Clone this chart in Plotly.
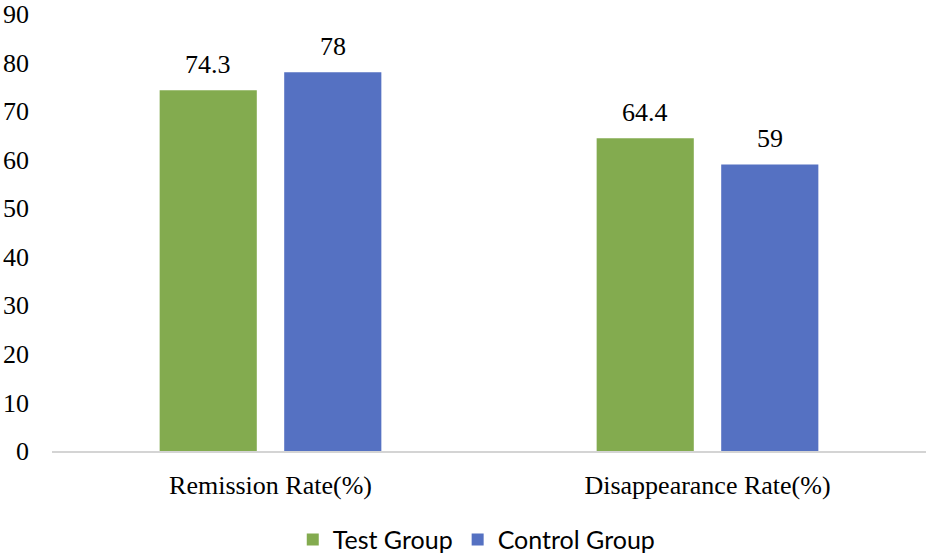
import plotly.graph_objects as go

categories = ["Remission Rate(%)", "Disappearance Rate(%)"]
test_group = [74.3, 64.4]
control_group = [78, 59]
test_labels = ["74.3", "64.4"]
control_labels = ["78", "59"]

serif = "Liberation Serif, Times New Roman, serif"

W, H = 931, 568
ML, MR, MT, MB = 52, 5, 14, 108
BARGAP, GROUPGAP = 0.43, 0.22

fig = go.Figure()
fig.add_trace(go.Bar(x=categories, y=test_group, name="Test Group",
                     marker=dict(color="#83AB4F", line=dict(width=0))))
fig.add_trace(go.Bar(x=categories, y=control_group, name="Control Group",
                     marker=dict(color="#5571C2", line=dict(width=0))))

# value labels placed above each bar (offset derived from layout geometry)
cat_px = (W - ML - MR) / len(categories)
off = (1 - BARGAP) / 4 * cat_px
for labels, vals, sign in [(test_labels, test_group, -1), (control_labels, control_group, 1)]:
    for c, v, t in zip(categories, vals, labels):
        fig.add_annotation(x=c, y=v, text=t, showarrow=False, xshift=sign * off,
                           yanchor="middle", yshift=26,
                           font=dict(family=serif, size=26, color="#000"))

fig.update_layout(
    width=W, height=H,
    margin=dict(l=ML, r=MR, t=MT, b=MB),
    plot_bgcolor="white", paper_bgcolor="white",
    barmode="group", bargap=BARGAP, bargroupgap=GROUPGAP,
    showlegend=True,
    legend=dict(orientation="h", x=0.486, xanchor="center", y=-0.203, yanchor="middle",
                font=dict(family="Lato, Liberation Sans, sans-serif", size=25, color="#000"),
                itemsizing="constant", traceorder="normal", itemwidth=30,
                tracegroupgap=0),
    xaxis=dict(showgrid=False, showline=True, linecolor="#d4d4d4", linewidth=2,
               ticks="", automargin=False, ticklabelstandoff=10,
               tickfont=dict(family=serif, size=26, color="#000")),
    yaxis=dict(range=[0, 90], dtick=10, showgrid=False, zeroline=False, showline=False,
               ticks="", automargin=False,
               tickfont=dict(family=serif, size=26, color="#000"),
               ticklabelstandoff=22),
)
fig.write_html(
    "out.html",
    config={"displayModeBar": False},
    post_script="document.body.style.margin='0';document.documentElement.style.overflow='hidden';document.body.style.overflow='hidden';",
)
